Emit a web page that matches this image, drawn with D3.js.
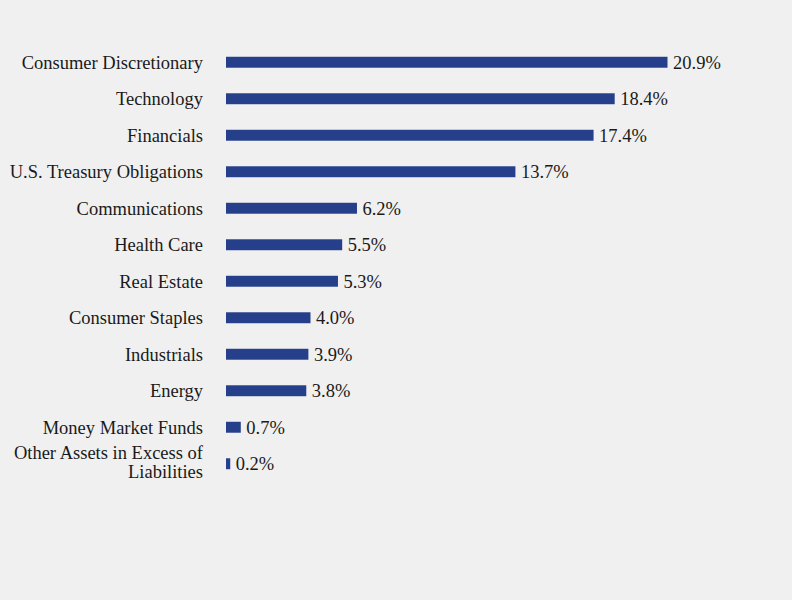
<!DOCTYPE html>
<html>
<head>
<meta charset="utf-8">
<script src="https://cdn.jsdelivr.net/npm/d3@7"></script>
<style>
  html, body { margin: 0; padding: 0; background: #f0f0f0; }
  svg { display: block; font-family: "Liberation Serif", "Times New Roman", serif; }
</style>
</head>
<body>
<div id="chart"></div>
<script>
const categories = [
  "Consumer Discretionary", "Technology", "Financials", "U.S. Treasury Obligations",
  "Communications", "Health Care", "Real Estate", "Consumer Staples",
  "Industrials", "Energy", "Money Market Funds", "Other Assets in Excess of Liabilities"
];
const values = [20.9, 18.4, 17.4, 13.7, 6.2, 5.5, 5.3, 4.0, 3.9, 3.8, 0.7, 0.2];
// line breaks for long category names
const labelLines = {
  "Other Assets in Excess of Liabilities": ["Other Assets in Excess of", "Liabilities"]
};

const W = 792, H = 600;
const M = { t: 44, r: 124, b: 118, l: 226 };
const w = W - M.l - M.r, h = H - M.t - M.b;
const FS = 18.5;

const svg = d3.select("#chart").append("svg")
  .attr("width", W).attr("height", H);
svg.append("rect").attr("width", W).attr("height", H).attr("fill", "#f0f0f0");

const g = svg.append("g").attr("transform", `translate(${M.l},${M.t})`);

const x = d3.scaleLinear().domain([0, 20.9]).range([0, 441.5]);
const y = d3.scaleBand().domain(categories).range([0, h]).paddingInner(0.7).paddingOuter(0.35);

g.selectAll("rect.bar")
  .data(categories)
  .join("rect")
  .attr("class", "bar")
  .attr("x", 0)
  .attr("y", d => y(d))
  .attr("width", (d, i) => x(values[i]))
  .attr("height", y.bandwidth())
  .attr("fill", "#263f8b");

// value labels
g.selectAll("text.val")
  .data(categories)
  .join("text")
  .attr("class", "val")
  .attr("x", (d, i) => x(values[i]) + 5.5)
  .attr("y", d => y(d) + y.bandwidth() / 2)
  .attr("dy", "0.35em")
  .style("font-size", FS + "px")
  .attr("fill", "#1a1a1a")
  .text((d, i) => values[i].toFixed(1) + "%");

// category labels
const cat = g.selectAll("text.cat")
  .data(categories)
  .join("text")
  .attr("class", "cat")
  .attr("text-anchor", "end")
  .attr("x", -23)
  .attr("y", d => y(d) + y.bandwidth() / 2)
  .style("font-size", FS + "px")
  .attr("fill", "#1a1a1a");

cat.each(function (d) {
  const lines = labelLines[d] || [d];
  const t = d3.select(this);
  lines.forEach((ln, i) => {
    t.append("tspan")
      .attr("x", -23)
      .attr("dy", i === 0 ? (FS * 0.35 - (lines.length - 1) * 11) + "px" : "19px")
      .text(ln);
  });
});
</script>
</body>
</html>
